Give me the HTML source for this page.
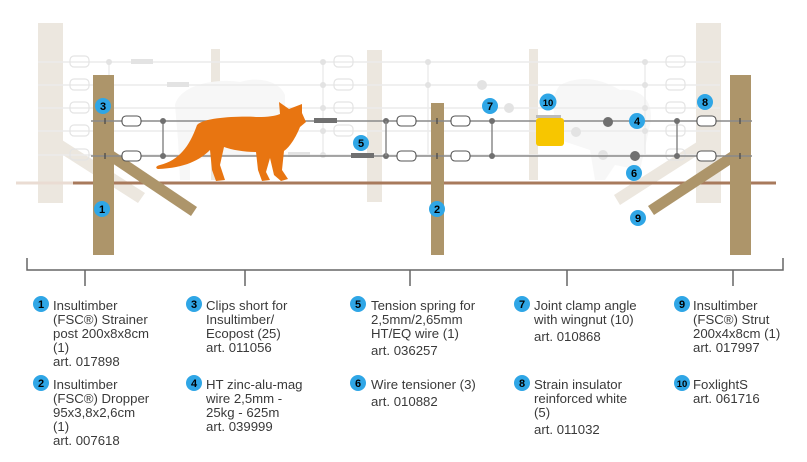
<!DOCTYPE html>
<html><head><meta charset="utf-8"><style>
html,body{margin:0;padding:0;background:#fff;}
svg{display:block;}
text{font-family:"Liberation Sans",sans-serif;}
.t{font-size:13.2px;fill:#3a3a3a;}
.b{font-size:11px;font-weight:bold;fill:#000;text-anchor:middle;}
</style></head><body>
<svg width="807" height="462" viewBox="0 0 807 462" xmlns="http://www.w3.org/2000/svg">
<!-- faded background -->
<g fill="#ece7df">
<rect x="38" y="23" width="25" height="180"/>
<rect x="211" y="49" width="9" height="131"/>
<rect x="367" y="50" width="15" height="152"/>
<rect x="529" y="49" width="9" height="131"/>
<rect x="696" y="23" width="25" height="180"/>
<polygon points="62,140 145,193 138,203 55,150"/>
<polygon points="614,195 700,140 706,150 620,205"/>
</g>
<!-- faded sheep -->
<path d="M175,105 C180,85 215,78 240,82 C260,76 280,82 285,95 L285,150 L190,160 L190,180 L180,180 L178,140 Z" fill="#f7f7f7"/>
<path d="M560,85 C580,75 600,78 620,90 C640,88 655,100 650,125 L640,170 L615,165 L605,180 L595,180 L590,150 L560,140 C555,120 548,100 560,85 Z" fill="#f7f7f7"/>
<g stroke="#ececec" stroke-width="1.5">
<line x1="38" y1="62" x2="720" y2="62"/>
<line x1="38" y1="85" x2="720" y2="85"/>
<line x1="38" y1="108" x2="720" y2="108"/>
<line x1="38" y1="131" x2="720" y2="131"/>
<line x1="38" y1="155" x2="720" y2="155"/>
<line x1="109" y1="62" x2="109" y2="155"/>
<line x1="323" y1="62" x2="323" y2="155"/>
<line x1="428" y1="62" x2="428" y2="155"/>
<line x1="645" y1="62" x2="645" y2="155"/>
</g>
<g fill="none" stroke="#e4e4e4" stroke-width="1.2">
<rect x="70" y="56" width="19" height="11" rx="4"/><rect x="70" y="79" width="19" height="11" rx="4"/><rect x="70" y="102" width="19" height="11" rx="4"/><rect x="70" y="125" width="19" height="11" rx="4"/><rect x="70" y="149" width="19" height="11" rx="4"/>
<rect x="334" y="56" width="19" height="11" rx="4"/><rect x="334" y="79" width="19" height="11" rx="4"/><rect x="334" y="102" width="19" height="11" rx="4"/><rect x="334" y="125" width="19" height="11" rx="4"/>
<rect x="666" y="56" width="19" height="11" rx="4"/><rect x="666" y="79" width="19" height="11" rx="4"/><rect x="666" y="102" width="19" height="11" rx="4"/><rect x="666" y="125" width="19" height="11" rx="4"/><rect x="666" y="149" width="19" height="11" rx="4"/>
</g>
<g fill="#e3e3e3">
<rect x="131" y="59" width="22" height="5"/><rect x="167" y="82" width="22" height="5"/><rect x="288" y="152" width="22" height="5"/>
<circle cx="109" cy="62" r="3"/><circle cx="323" cy="62" r="3"/><circle cx="323" cy="85" r="3"/><circle cx="323" cy="108" r="3"/><circle cx="323" cy="131" r="3"/><circle cx="323" cy="155" r="3"/>
<circle cx="428" cy="62" r="3"/><circle cx="428" cy="85" r="3"/><circle cx="645" cy="62" r="3"/><circle cx="645" cy="85" r="3"/><circle cx="645" cy="108" r="3"/><circle cx="645" cy="131" r="3"/>
<circle cx="482" cy="85" r="5"/><circle cx="509" cy="108" r="5"/><circle cx="576" cy="132" r="5"/><circle cx="603" cy="155" r="5"/>
</g>
<!-- ground -->
<line x1="16" y1="183" x2="73" y2="183" stroke="#eadcd3" stroke-width="3"/>
<line x1="73" y1="183" x2="776" y2="183" stroke="#a87a5c" stroke-width="3"/>
<!-- posts -->
<g fill="#ad956a">
<rect x="93" y="75" width="21" height="180"/>
<polygon points="112,150 197,207 191,216 106,159"/>
<rect x="431" y="103" width="13" height="152"/>
<rect x="730" y="75" width="21" height="180"/>
<polygon points="733,150 739,159 654,215 648,206"/>
</g>
<!-- active wires -->
<g stroke="#8a8a8a" stroke-width="1.5">
<line x1="91" y1="121" x2="752" y2="121"/>
<line x1="91" y1="156" x2="752" y2="156"/>
<line x1="163" y1="121" x2="163" y2="156"/>
<line x1="492" y1="121" x2="492" y2="156"/>
<line x1="677" y1="121" x2="677" y2="156"/>
</g>
<g stroke="#444" stroke-width="1.2">
<line x1="105" y1="118" x2="105" y2="124"/><line x1="105" y1="153" x2="105" y2="159"/>
<line x1="437" y1="118" x2="437" y2="124"/><line x1="437" y1="153" x2="437" y2="159"/>
<line x1="740" y1="118" x2="740" y2="124"/><line x1="740" y1="153" x2="740" y2="159"/>
</g>
<g fill="#fff" stroke="#555" stroke-width="1.1">
<rect x="122" y="116" width="19" height="10" rx="4"/><rect x="122" y="151" width="19" height="10" rx="4"/>
<rect x="397" y="116" width="19" height="10" rx="4"/><rect x="397" y="151" width="19" height="10" rx="4"/>
<rect x="451" y="116" width="19" height="10" rx="4"/><rect x="451" y="151" width="19" height="10" rx="4"/>
<rect x="697" y="116" width="19" height="10" rx="4"/><rect x="697" y="151" width="19" height="10" rx="4"/>
</g>
<g fill="#707070">
<circle cx="163" cy="121" r="3"/><circle cx="163" cy="156" r="3"/>
<circle cx="386" cy="121" r="3"/><circle cx="386" cy="156" r="3"/>
<circle cx="492" cy="121" r="3"/><circle cx="492" cy="156" r="3"/>
<circle cx="677" cy="121" r="3"/><circle cx="677" cy="156" r="3"/>
<rect x="314" y="118" width="23" height="5"/><rect x="351" y="153" width="23" height="5"/>
<circle cx="608" cy="122" r="5"/><circle cx="635" cy="156" r="5"/>
</g>
<line x1="386" y1="121" x2="386" y2="156" stroke="#8a8a8a" stroke-width="1.5"/>
<!-- foxlight -->
<rect x="536" y="115" width="25" height="3" fill="#bbb"/>
<rect x="536" y="118" width="28" height="28" rx="3" fill="#f7c600"/>
<!-- fox -->
<path d="M197,125 C205,117 240,116 258,117 C268,117 275,116 280,114 L279,102 L289,109 L302,104 L302,113 L306,122 L300,127 C296,137 290,147 284,151 L282,170 L288,179 L281,181 L274,175 L270,158 L266,172 L270,180 L262,181 L258,170 L256,152 C245,152 232,150 224,147 L220,165 L225,180 L216,181 L212,170 L210,150 C200,160 185,168 158,169 C155,168 156,166 160,165 C180,160 190,145 197,125 Z" fill="#e87511"/>
<!-- badges -->
<g fill="#2fa6e6">
<circle cx="103" cy="106" r="8"/><circle cx="102" cy="209" r="8"/><circle cx="361" cy="143" r="8"/><circle cx="437" cy="209" r="8"/>
<circle cx="490" cy="106" r="8"/><circle cx="548" cy="102" r="8.5"/><circle cx="637" cy="121" r="8"/><circle cx="634" cy="173" r="8"/>
<circle cx="638" cy="218" r="8"/><circle cx="705" cy="102" r="8"/>
</g>
<g class="b">
<text x="103" y="110">3</text><text x="102" y="213">1</text><text x="361" y="147">5</text><text x="437" y="213">2</text>
<text x="490" y="110">7</text><text x="548" y="106" style="font-size:9.5px">10</text><text x="637" y="125">4</text><text x="634" y="177">6</text>
<text x="638" y="222">9</text><text x="705" y="106">8</text>
</g>
<!-- bracket -->
<g stroke="#666" stroke-width="1.5" fill="none">
<polyline points="27,258 27,270 783,270 783,258"/>
<line x1="85" y1="270" x2="85" y2="286"/><line x1="245" y1="270" x2="245" y2="286"/>
<line x1="410" y1="270" x2="410" y2="286"/><line x1="567" y1="270" x2="567" y2="286"/>
<line x1="733" y1="270" x2="733" y2="286"/>
</g>
<!-- legend badges -->
<g fill="#2fa6e6">
<circle cx="41" cy="304" r="8"/><circle cx="41" cy="383" r="8"/>
<circle cx="194" cy="304" r="8"/><circle cx="194" cy="383" r="8"/>
<circle cx="358" cy="304" r="8"/><circle cx="358" cy="383" r="8"/>
<circle cx="522" cy="304" r="8"/><circle cx="522" cy="383" r="8"/>
<circle cx="682" cy="304" r="8"/><circle cx="682" cy="383" r="8"/>
</g>
<g class="b">
<text x="41" y="308">1</text><text x="41" y="387">2</text>
<text x="194" y="308">3</text><text x="194" y="387">4</text>
<text x="358" y="308">5</text><text x="358" y="387">6</text>
<text x="522" y="308">7</text><text x="522" y="387">8</text>
<text x="682" y="308">9</text><text x="682" y="387" style="font-size:9.5px">10</text>
</g>
<g class="t">
<text x="53" y="310">Insultimber</text><text x="53" y="324">(FSC®) Strainer</text><text x="53" y="338">post 200x8x8cm</text><text x="53" y="352">(1)</text><text x="53" y="366">art. 017898</text>
<text x="53" y="389">Insultimber</text><text x="53" y="403">(FSC®) Dropper</text><text x="53" y="417">95x3,8x2,6cm</text><text x="53" y="431">(1)</text><text x="53" y="445">art. 007618</text>
<text x="206" y="310">Clips short for</text><text x="206" y="324">Insultimber/</text><text x="206" y="338">Ecopost (25)</text><text x="206" y="352">art. 011056</text>
<text x="206" y="389">HT zinc-alu-mag</text><text x="206" y="403">wire 2,5mm -</text><text x="206" y="417">25kg - 625m</text><text x="206" y="431">art. 039999</text>
<text x="371" y="310">Tension spring for</text><text x="371" y="324">2,5mm/2,65mm</text><text x="371" y="338">HT/EQ wire (1)</text><text x="371" y="355">art. 036257</text>
<text x="371" y="389">Wire tensioner (3)</text><text x="371" y="406">art. 010882</text>
<text x="534" y="310">Joint clamp angle</text><text x="534" y="324">with wingnut (10)</text><text x="534" y="341">art. 010868</text>
<text x="534" y="389">Strain insulator</text><text x="534" y="403">reinforced white</text><text x="534" y="417">(5)</text><text x="534" y="434">art. 011032</text>
<text x="693" y="310">Insultimber</text><text x="693" y="324">(FSC®) Strut</text><text x="693" y="338">200x4x8cm (1)</text><text x="693" y="352">art. 017997</text>
<text x="693" y="389">FoxlightS</text><text x="693" y="403">art. 061716</text>
</g>
</svg>
</body></html>
